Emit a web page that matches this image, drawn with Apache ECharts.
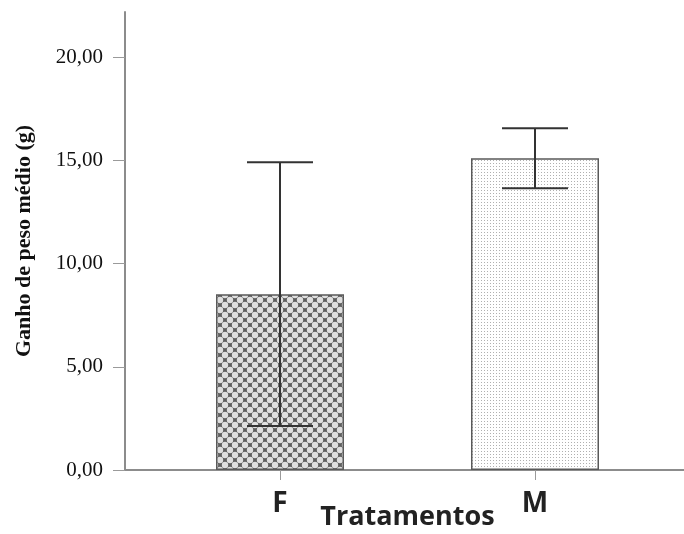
<!DOCTYPE html>
<html>
<head>
<meta charset="utf-8">
<script src="https://cdn.jsdelivr.net/npm/echarts@6/dist/echarts.min.js"></script>
<style>
  html, body { margin: 0; padding: 0; background: #fff; }
  #chart { width: 684px; height: 534px; }
</style>
</head>
<body>
<div id="chart"></div>
<script>
var categories = ['F', 'M'];
var means = [8.52, 15.11];
var errLow = [2.13, 13.66];
var errHigh = [14.92, 16.56];
var majorTicks = [0, 5, 10, 15, 20];
var minorTicks = [2.5, 7.5, 12.5, 17.5];
var yMax = 22.2;

function makePattern(kind) {
  var c = document.createElement('canvas');
  var ctx = c.getContext('2d');
  if (kind == 'cross') {
    c.width = 10; c.height = 10;
    ctx.fillStyle = '#5e5e5e';
    ctx.fillRect(0, 0, 10, 10);
    ctx.fillStyle = '#e0e0e0';
    var pts = [[0, 0], [10, 0], [0, 10], [10, 10], [5, 5]];
    for (var i = 0; i < pts.length; i++) {
      ctx.beginPath();
      ctx.arc(pts[i][0], pts[i][1], 3.2, 0, Math.PI * 2);
      ctx.fill();
    }
  } else {
    c.width = 3; c.height = 3;
    ctx.fillStyle = '#ffffff';
    ctx.fillRect(0, 0, 3, 3);
    ctx.fillStyle = '#b0b0b0';
    ctx.fillRect(1, 1, 1, 1);
  }
  return { image: c, repeat: 'repeat' };
}

var fills = [makePattern('cross'), makePattern('dots')];

var errData = [];
for (var i = 0; i < categories.length; i++) {
  errData.push([i, errLow[i], errHigh[i]]);
}

function fmt(v) {
  return v.toFixed(2).replace('.', ',');
}

var myChart = echarts.init(document.getElementById('chart'));
var option = {
  animation: false,
  backgroundColor: '#fff',
  grid: [
    { left: 125, right: 0, top: 12, bottom: 64, outerBoundsMode: 'none', containLabel: false },
    { left: 152.5, right: 21.5, top: 12, bottom: 64, outerBoundsMode: 'none', containLabel: false }
  ],
  xAxis: [
    {
      gridIndex: 0, type: 'value', min: 0, max: 1,
      axisLine: { show: true, lineStyle: { color: '#8c8c8c', width: 2 } },
      axisTick: { show: false }, axisLabel: { show: false }, splitLine: { show: false }
    },
    {
      gridIndex: 1, type: 'category', data: categories,
      axisLine: { show: false },
      axisTick: { show: true, alignWithLabel: true, length: 10, lineStyle: { color: '#9a9a9a', width: 1 } },
      axisLabel: { margin: 20, fontFamily: 'Open Sans', fontWeight: 'bold', fontSize: 28, color: '#222' },
      name: 'Tratamentos', nameLocation: 'middle', nameGap: 34, nameMoveOverlap: false,
      nameTextStyle: { fontFamily: 'Open Sans', fontWeight: 'bold', fontSize: 27, color: '#222' }
    }
  ],
  yAxis: [
    {
      gridIndex: 0, type: 'value', min: 0, max: yMax,
      axisLine: { show: true, lineStyle: { color: '#8c8c8c', width: 2 } },
      axisTick: { show: true, customValues: majorTicks, length: 12, lineStyle: { color: '#9a9a9a', width: 1 } },
      axisLabel: {
        customValues: majorTicks, margin: 22, formatter: fmt,
        fontFamily: 'Liberation Serif', fontSize: 21, color: '#111'
      },
      splitLine: { show: false },
      name: 'Ganho de peso médio (g)', nameLocation: 'middle', nameGap: 90, nameMoveOverlap: false,
      nameTextStyle: { fontFamily: 'Liberation Serif', fontWeight: 'bold', fontSize: 22, color: '#111' }
    },
    {
      gridIndex: 0, type: 'value', min: 0, max: yMax,
      axisLine: { show: false },
      axisTick: { show: true, customValues: minorTicks, length: 6, lineStyle: { color: '#9a9a9a', width: 1 } },
      axisLabel: { show: false }, splitLine: { show: false }
    },
    {
      gridIndex: 1, type: 'value', min: 0, max: yMax, show: false
    }
  ],
  series: [
    {
      type: 'bar', xAxisIndex: 1, yAxisIndex: 2, barWidth: 128,
      data: means.map(function (v, i) {
        return { value: v, itemStyle: { color: fills[i] } };
      }),
      itemStyle: { borderColor: '#5a5a5a', borderWidth: 1.5 }
    },
    {
      type: 'custom', xAxisIndex: 1, yAxisIndex: 2, z: 5,
      data: errData,
      renderItem: function (params, api) {
        var x = api.value(0);
        var lo = api.coord([x, api.value(1)]);
        var hi = api.coord([x, api.value(2)]);
        var w = 33;
        var st = { stroke: '#333', lineWidth: 2 };
        return {
          type: 'group',
          children: [
            { type: 'line', shape: { x1: lo[0], y1: lo[1], x2: hi[0], y2: hi[1] }, style: st },
            { type: 'line', shape: { x1: hi[0] - w, y1: hi[1], x2: hi[0] + w, y2: hi[1] }, style: st },
            { type: 'line', shape: { x1: lo[0] - w, y1: lo[1], x2: lo[0] + w, y2: lo[1] }, style: st }
          ]
        };
      }
    }
  ]
};
myChart.setOption(option);
</script>
</body>
</html>
